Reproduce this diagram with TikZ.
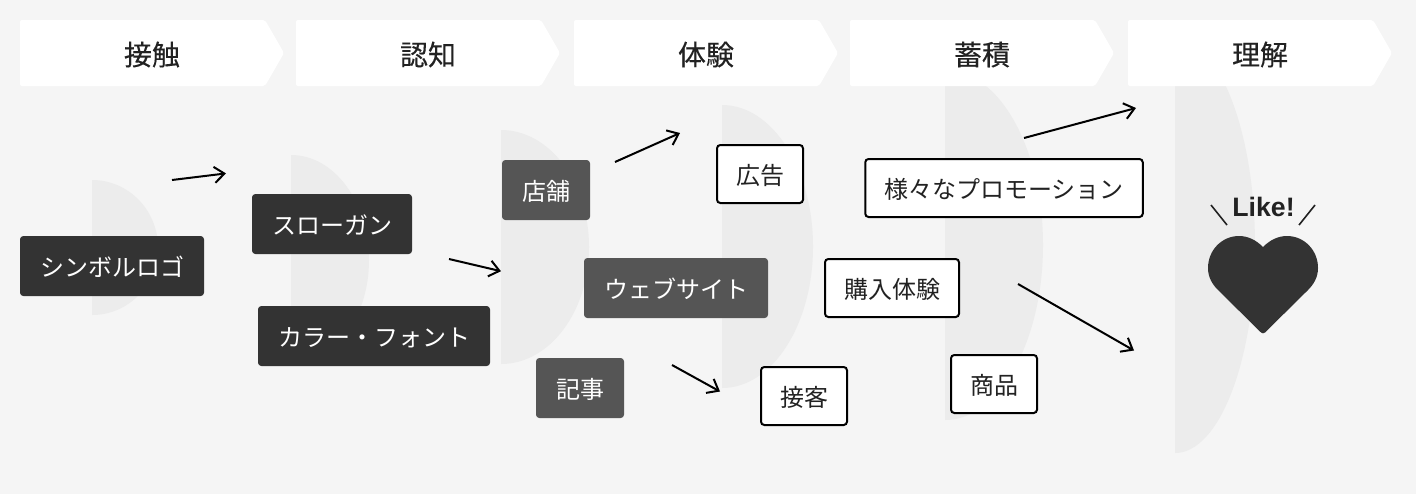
\documentclass[tikz,border=0pt]{standalone}
\usepackage{fontspec}
\setmainfont{Noto Sans CJK JP}
\newfontfamily\headfont[FakeBold=0.25]{Noto Sans CJK JP}
\newfontfamily\likefont{Liberation Sans}
\usetikzlibrary{arrows.meta}
\definecolor{pagebg}{HTML}{F5F5F5}
\definecolor{halfgray}{HTML}{ECECEC}
\definecolor{darkbox}{HTML}{333333}
\definecolor{midbox}{HTML}{555555}
\definecolor{inkgray}{HTML}{222222}
\tikzset{
	x=0.75pt, y=-0.75pt,
	halfshape/.style={fill=halfgray},
	banner/.style={fill=white, rounded corners=1.5pt},
	bannertext/.style={font=\headfont\fontsize{21}{21}\selectfont, text=inkgray, inner sep=0pt},
	darknode/.style={fill=darkbox, text=white, rounded corners=2.5pt, inner xsep=15pt, inner ysep=0pt, minimum height=45pt, text height=16.2pt, text depth=1pt, font=\fontsize{18}{18}\selectfont},
	midnode/.style={darknode, fill=midbox},
	whitenode/.style={draw=black, line width=1.5pt, fill=white, text=inkgray, rounded corners=2.5pt, inner xsep=14.25pt, inner ysep=0pt, minimum height=43.5pt, text height=16.2pt, text depth=1pt, font=\fontsize{18}{18}\selectfont},
	flow/.style={draw=black, line width=1.5pt, -{Straight Barb[length=7.5pt,width=12pt,line width=1.5pt]}},
	tick/.style={draw=inkgray, line width=1.2pt}
}
\begin{document}
\begin{tikzpicture}
		\fill[pagebg] (0,0) rectangle (1416,494);
		\useasboundingbox (0,0) rectangle (1416,494);

		\fill[halfshape] (92,180) arc[start angle=-90, end angle=90, x radius=66, y radius=67.5] -- cycle;
		\fill[halfshape] (291,155) arc[start angle=-90, end angle=90, x radius=78, y radius=105] -- cycle;
		\fill[halfshape] (501,130) arc[start angle=-90, end angle=90, x radius=88, y radius=117] -- cycle;
		\fill[halfshape] (722,105) arc[start angle=-90, end angle=90, x radius=91, y radius=141.5] -- cycle;
		\fill[halfshape] (945,70) arc[start angle=-90, end angle=90, x radius=98, y radius=175] -- cycle;
		\fill[halfshape] (1175,39) arc[start angle=-90, end angle=90, x radius=80, y radius=207] -- cycle;

		\fill[banner] (20,20) -- (265,20) -- (284,53) -- (265,86) -- (20,86) -- cycle;
		\fill[banner] (296,20) -- (541,20) -- (560,53) -- (541,86) -- (296,86) -- cycle;
		\fill[banner] (574,20) -- (819,20) -- (838,53) -- (819,86) -- (574,86) -- cycle;
		\fill[banner] (850,20) -- (1095,20) -- (1114,53) -- (1095,86) -- (850,86) -- cycle;
		\fill[banner] (1128,20) -- (1373,20) -- (1392,53) -- (1373,86) -- (1128,86) -- cycle;

		\node[bannertext] (contact) at (152,54.5) {接触};
		\node[bannertext] (aware) at (428,54.5) {認知};
		\node[bannertext] (experience) at (706,54.5) {体験};
		\node[bannertext] (store) at (982,54.5) {蓄積};
		\node[bannertext] (understand) at (1260,54.5) {理解};

		\node[darknode] (logo) at (112,266) {シンボルロゴ};
		\node[darknode] (slogan) at (332,224) {スローガン};
		\node[darknode] (colorfont) at (374,336) {カラー・フォント};

		\node[midnode] (shop) at (546,190) {店舗};
		\node[midnode] (website) at (676,288) {ウェブサイト};
		\node[midnode] (article) at (580,388) {記事};

		\node[whitenode] (advert) at (760,174) {広告};
		\node[whitenode] (service) at (804,396) {接客};
		\node[whitenode] (promotion) at (1004,188) {様々なプロモーション};
		\node[whitenode] (purchase) at (892,288) {購入体験};
		\node[whitenode] (product) at (994,384) {商品};

		\coordinate (logoout) at (172,180);
		\coordinate (sloganin) at (226,173.4);
		\coordinate (sloganout) at (449,259);
		\coordinate (shopin) at (501,271.2);
		\coordinate (shopout) at (615,162);
		\coordinate (advertin) at (680,133);
		\coordinate (articleout) at (672,365);
		\coordinate (servicein) at (720,391.5);
		\coordinate (promoout) at (1024,138);
		\coordinate (likeupper) at (1136,108);
		\coordinate (purchaseout) at (1018,284);
		\coordinate (likelower) at (1134,350.5);

		\draw[flow] (logoout) -- (sloganin);
		\draw[flow] (sloganout) -- (shopin);
		\draw[flow] (shopout) -- (advertin);
		\draw[flow] (articleout) -- (servicein);
		\draw[flow] (promoout) -- (likeupper);
		\draw[flow] (purchaseout) -- (likelower);

		\fill[darkbox] (1263,247) .. controls (1256,240) and (1248,236) .. (1239,236)
			.. controls (1222,236) and (1208,250) .. (1208,268)
			.. controls (1208,277) and (1212,284) .. (1218,290)
			-- (1261,332.5) .. controls (1262.3,333.6) and (1263.7,333.6) .. (1265,332.5)
			-- (1308,290) .. controls (1314,284) and (1318,277) .. (1318,268)
			.. controls (1318,250) and (1304,236) .. (1287,236)
			.. controls (1278,236) and (1270,240) .. (1263,247) -- cycle;

		\node[font=\likefont\bfseries\fontsize{20}{20}\selectfont, text=inkgray, inner sep=0pt] (like) at (1263.5,207) {Like!};
		\draw[tick] (1211,205) -- (1227,225);
		\draw[tick] (1315,205) -- (1299,225);
	\end{tikzpicture}
\end{document}
